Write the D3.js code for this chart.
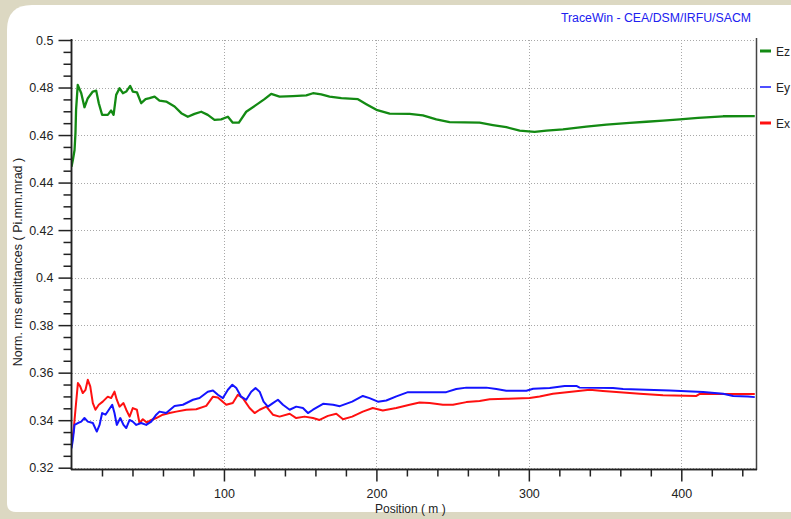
<!DOCTYPE html>
<html>
<head>
<meta charset="utf-8">
<script src="https://cdn.jsdelivr.net/npm/d3@7/dist/d3.min.js"></script>
<style>
  html, body { margin: 0; padding: 0; background: #dcd8c2; }
  svg { display: block; }
  text { font-family: "Liberation Sans", Arial, sans-serif; }
</style>
</head>
<body>
<svg id="chart" width="791" height="519"></svg>
<script>
// Normalised rms emittances along the linac (TraceWin output)
const posEz = [0,0.9,2,2.6,3,4.1,6.4,8.5,10.7,14,16.2,17.9,20.1,23.8,26,27.6,29.3,31.5,33.7,35.9,38.5,40.2,42.9,45.7,48.6,51.2,54.5,57.7,62.1,67.6,72,76.3,80.7,85.1,89.4,93.8,98.2,102.6,105.8,109.8,114.6,121.2,126.6,131,136.5,145.2,154,158.4,163.8,169.3,177,187.9,193.4,200,208.7,221.8,230.5,239.3,248,267.7,276.4,285.2,294,303.8,311.5,322.4,337.7,350.9,366.1,377.1,388,399,411,427.4,448.2];
const ez = [0.4467,0.4495,0.4537,0.4608,0.4706,0.4811,0.4776,0.4717,0.4755,0.4783,0.4787,0.4734,0.4685,0.4685,0.4703,0.4685,0.4769,0.4797,0.4776,0.4783,0.4807,0.4783,0.4780,0.4734,0.4751,0.4755,0.4762,0.4745,0.4741,0.4720,0.4692,0.4677,0.4689,0.4698,0.4685,0.4664,0.4666,0.4677,0.4652,0.4652,0.4698,0.4727,0.4751,0.4773,0.4762,0.4764,0.4767,0.4776,0.4771,0.4762,0.4755,0.4751,0.4730,0.4706,0.4690,0.4689,0.4683,0.4666,0.4654,0.4652,0.4642,0.4633,0.4619,0.4613,0.4619,0.4624,0.4635,0.4644,0.4651,0.4656,0.4661,0.4666,0.4672,0.4679,0.4680];

const posEy = [0,0.9,2,4.2,6.4,8.5,10.7,14,16.6,18.4,20.1,22.3,24.5,26.7,28.2,29.7,32,34.1,35.9,38.1,40.2,42.5,45.7,49,52.3,55.6,57.7,62.1,67.6,73.1,79.7,84,89.4,92.8,96,99.3,102.6,105.5,108.1,111.3,114.6,117.9,120.7,123.4,126,128.8,132.1,135.4,138.7,143.1,147.4,151.8,155.1,158.4,165,171.6,176,184.1,191.1,195.5,201,206.5,213.1,220.7,245.8,252.4,259,272.1,278.7,285.2,298.4,302.8,313.7,323.5,331.2,333.3,355.2,361.8,392.4,414.3,427.4,434,443.8,448.2];
const ey = [0.3282,0.3317,0.3380,0.3388,0.3394,0.3409,0.3394,0.3388,0.3352,0.3380,0.3430,0.3423,0.3444,0.3465,0.3430,0.3380,0.3409,0.3380,0.3367,0.3401,0.3394,0.3380,0.3388,0.3380,0.3394,0.3423,0.3436,0.3430,0.3460,0.3465,0.3486,0.3493,0.3520,0.3525,0.3507,0.3493,0.3528,0.3549,0.3535,0.3499,0.3486,0.3520,0.3535,0.3520,0.3478,0.3457,0.3472,0.3486,0.3465,0.3444,0.3457,0.3451,0.3430,0.3444,0.3469,0.3465,0.3459,0.3478,0.3502,0.3493,0.3478,0.3483,0.3500,0.3518,0.3518,0.3531,0.3537,0.3537,0.3531,0.3524,0.3524,0.3532,0.3535,0.3544,0.3544,0.3537,0.3535,0.3531,0.3525,0.3519,0.3511,0.3502,0.3500,0.3497];

const posEx = [0,1.3,2.6,4.2,5.7,7.4,9.2,10.7,12.3,14,15.7,17.9,20.5,23.8,26,28.2,29.7,31.5,34.1,35.9,38.1,40.2,42.9,44.6,46.8,49.4,52.3,55.6,59.9,64.3,68.7,75.3,81.8,88.4,92.8,96,101.5,105.8,109.1,112.4,116.8,120.1,123.4,127.8,132.1,136.5,143.1,147.4,152.9,158.4,162.7,168.2,173.7,178.1,184.1,191.1,197.6,204.2,213,221.8,228.3,234.9,243.6,250.2,259,267.7,274.3,285.2,300.5,307.1,315.8,327.9,339.9,348.6,361.8,372.7,388,409.9,412.1,429.6,448.2];
const ex = [0.3303,0.3352,0.3444,0.3556,0.3542,0.3514,0.3528,0.3570,0.3542,0.3472,0.3444,0.3465,0.3478,0.3499,0.3493,0.3520,0.3486,0.3457,0.3472,0.3444,0.3415,0.3451,0.3444,0.3388,0.3404,0.3390,0.3401,0.3409,0.3423,0.3430,0.3436,0.3444,0.3446,0.3460,0.3499,0.3495,0.3465,0.3472,0.3507,0.3493,0.3451,0.3430,0.3444,0.3457,0.3423,0.3415,0.3427,0.3409,0.3415,0.3409,0.3401,0.3418,0.3427,0.3404,0.3415,0.3436,0.3451,0.3441,0.3451,0.3465,0.3474,0.3472,0.3465,0.3465,0.3476,0.3481,0.3488,0.3490,0.3493,0.3500,0.3511,0.3520,0.3528,0.3523,0.3516,0.3511,0.3505,0.3502,0.3511,0.3510,0.3510];

// Axis ticks and their labels
const yTicks = [0.32,0.34,0.36,0.38,0.40,0.42,0.44,0.46,0.48,0.50];
const yTickLabels = ["0.32","0.34","0.36","0.38","0.4","0.42","0.44","0.46","0.48","0.5"];
const xTicks = [100,200,300,400];
const xTickLabels = ["100","200","300","400"];

const seriesNames = ["Ez","Ey","Ex"];
const seriesColors = ["#138a13","#1414ff","#ff1010"];

const svg = d3.select("#chart");

// window frame: beige border with a white rounded panel
svg.append("rect").attr("x",0).attr("y",0).attr("width",791).attr("height",519).attr("fill","#dcd8c2");
svg.append("path")
  .attr("d","M7,30 Q7,5 32,5 L800,5 L800,512 L16,512 Q7,512 7,503 Z")
  .attr("fill","#ffffff");

const x = d3.scaleLinear().domain([0,449]).range([71.5,756]);
const y = d3.scaleLinear().domain([0.32,0.50]).range([467.7,40]);

// dotted grid
const grid = svg.append("g").attr("stroke","#a8a8a8").attr("stroke-width",1).attr("stroke-dasharray","1,2");
grid.selectAll("line.h").data(yTicks).join("line")
  .attr("x1",72).attr("x2",755)
  .attr("y1",d=>Math.round(y(d))+0.5).attr("y2",d=>Math.round(y(d))+0.5);
grid.selectAll("line.v").data(xTicks).join("line")
  .attr("x1",d=>Math.round(x(d))+0.5).attr("x2",d=>Math.round(x(d))+0.5)
  .attr("y1",40).attr("y2",468);

// right frame
svg.append("line").attr("x1",756.5).attr("x2",756.5).attr("y1",38).attr("y2",470)
  .attr("stroke","#444").attr("stroke-width",1.5);

// curves
const line = d3.line().x(d=>x(d[0])).y(d=>y(d[1]));
const series = [
  d3.zip(posEz, ez),
  d3.zip(posEy, ey),
  d3.zip(posEx, ex)
];
svg.append("defs").append("clipPath").attr("id","plotclip")
  .append("rect").attr("x",71).attr("y",30).attr("width",685).attr("height",440);
const curves = svg.append("g").attr("clip-path","url(#plotclip)");
// draw Ex, Ey then Ez so overlap order is red under blue
[2,1,0].forEach(i => {
  curves.append("path").datum(series[i])
    .attr("fill","none").attr("stroke",seriesColors[i])
    .attr("stroke-width", i===0 ? 2.3 : 2).attr("stroke-linejoin","round")
    .attr("d",line);
});

// left axis: major + minor ticks
const fontSize = "12.5px";
const yMinor = d3.range(0.32,0.5001,0.005).filter(v => !yTicks.some(t => Math.abs(t-v)<1e-6));
const yAxisMinor = d3.axisLeft(y).tickValues(yMinor).tickSize(8).tickFormat("");
const yAxis = d3.axisLeft(y).tickValues(yTicks).tickSize(13).tickPadding(5)
  .tickFormat((d,i)=>yTickLabels[i]);
const gyMinor = svg.append("g").attr("transform","translate(71.5,0)").call(yAxisMinor);
const gy = svg.append("g").attr("transform","translate(71.5,0)").call(yAxis);
[gy, gyMinor].forEach(g => {
  g.select(".domain").attr("stroke","#222").attr("stroke-width",1.5).attr("d","M0,39V470");
  g.selectAll(".tick line").attr("stroke","#222").attr("stroke-width",1.5);
});
gy.selectAll(".tick text").attr("fill","#222").style("font-size",fontSize)
  .style("font-family","'Liberation Sans', Arial, sans-serif");

// bottom axis
const xMinor = d3.range(20,449,20).filter(v => !xTicks.includes(v));
const xAxisMinor = d3.axisBottom(x).tickValues(xMinor).tickSize(7).tickFormat("");
const xAxis = d3.axisBottom(x).tickValues(xTicks).tickSize(12).tickPadding(8)
  .tickFormat((d,i)=>xTickLabels[i]);
const gxMinor = svg.append("g").attr("transform","translate(0,469.5)").call(xAxisMinor);
const gx = svg.append("g").attr("transform","translate(0,469.5)").call(xAxis);
[gx, gxMinor].forEach(g => {
  g.select(".domain").attr("stroke","#222").attr("stroke-width",1.5).attr("d","M71,0H757");
  g.selectAll(".tick line").attr("stroke","#222").attr("stroke-width",1.5);
});
gx.selectAll(".tick text").attr("fill","#222").style("font-size",fontSize)
  .style("font-family","'Liberation Sans', Arial, sans-serif");

// axis titles
svg.append("text")
  .attr("transform","translate(22,262) rotate(-90)")
  .attr("text-anchor","middle").attr("fill","#222")
  .style("font-size","12.5px")
  .text("Norm. rms emittances ( Pi.mm.mrad )");
svg.append("text")
  .attr("x",375).attr("y",513).attr("fill","#222")
  .style("font-size","12px")
  .text("Position ( m )");

// program banner
svg.append("text")
  .attr("x",656).attr("y",22).attr("text-anchor","middle")
  .attr("fill","#2020f0").style("font-size","12.3px")
  .text("TraceWin - CEA/DSM/IRFU/SACM");

// legend at the right edge of the window
const legend = svg.append("g");
seriesNames.forEach((name,i) => {
  const ly = 51 + i*36;
  legend.append("line").attr("x1",760).attr("x2",771).attr("y1",ly).attr("y2",ly)
    .attr("stroke",seriesColors[i]).attr("stroke-width", i===1 ? 1.5 : 3);
  legend.append("text").attr("x",776).attr("y",ly+4.5).attr("fill","#222")
    .style("font-size","12px").text(name);
});
</script>
</body>
</html>
